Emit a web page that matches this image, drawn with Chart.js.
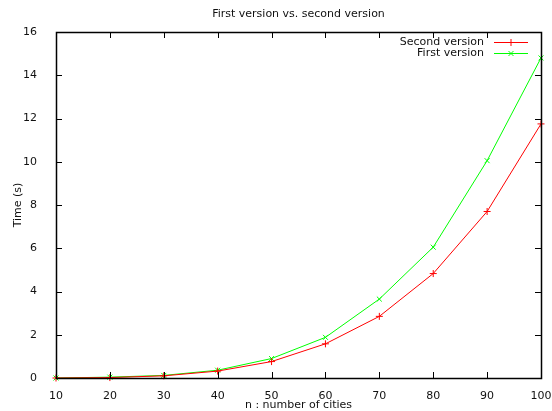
<!DOCTYPE html>
<html>
<head>
<meta charset="utf-8">
<script src="https://cdn.jsdelivr.net/npm/chart.js@4"></script>
<style>
  html, body { margin: 0; padding: 0; background: #fff; }
  #wrap { width: 552px; height: 411px; }
</style>
</head>
<body>
<div id="wrap"><canvas id="myCanvas" width="552" height="411"></canvas></div>
<script>
// data
var cities = [10, 20, 30, 40, 50, 60, 70, 80, 90, 100];
var secondVersion = [0, 0.02, 0.1, 0.32, 0.76, 1.58, 2.85, 4.83, 7.7, 11.75];
var firstVersion = [0, 0.04, 0.12, 0.36, 0.9, 1.88, 3.65, 6.05, 10.05, 14.8];
var xTicks = [10, 20, 30, 40, 50, 60, 70, 80, 90, 100];
var yTicks = [0, 2, 4, 6, 8, 10, 12, 14, 16];

var FONT = "'DejaVu Sans', sans-serif";
Chart.defaults.font.family = FONT;
Chart.defaults.font.size = 11;
Chart.defaults.color = "#111";

function pts(ys) {
  return cities.map(function (x, i) { return { x: x, y: ys[i] }; });
}

// gnuplot look: box, inward ticks, legend, titles
var gnuplotFrame = {
  id: "gnuplotFrame",
  afterDraw: function (chart) {
    var ctx = chart.ctx;
    var a = chart.chartArea;
    var xs = chart.scales.x, ys = chart.scales.y;
    ctx.save();
    ctx.strokeStyle = "#000";
    ctx.lineWidth = 1;
    ctx.beginPath();
    xTicks.forEach(function (v) {
      var px = Math.round(xs.getPixelForValue(v)) + 0.5;
      ctx.moveTo(px, a.bottom); ctx.lineTo(px, a.bottom - 6);
      ctx.moveTo(px, a.top); ctx.lineTo(px, a.top + 6);
    });
    yTicks.forEach(function (v) {
      var py = Math.round(ys.getPixelForValue(v)) + 0.5;
      ctx.moveTo(a.left, py); ctx.lineTo(a.left + 6, py);
      ctx.moveTo(a.right, py); ctx.lineTo(a.right - 6, py);
    });
    ctx.stroke();
    ctx.lineWidth = 1.5;
    ctx.strokeRect(Math.round(a.left) + 0.5, Math.round(a.top) + 0.5,
      Math.round(a.right - a.left), Math.round(a.bottom - a.top));

    ctx.fillStyle = "#111";
    ctx.font = "11px " + FONT;
    ctx.textBaseline = "middle";
    ctx.textAlign = "center";
    ctx.fillText("First version vs. second version", (a.left + a.right) / 2, 14);
    ctx.fillText("n : number of cities", (a.left + a.right) / 2, 405);
    ctx.save();
    ctx.translate(18, (a.top + a.bottom) / 2);
    ctx.rotate(-Math.PI / 2);
    ctx.fillText("Time (s)", 0, 0);
    ctx.restore();

    // legend
    chart.data.datasets.forEach(function (ds, i) {
      var y = 42 + i * 11;
      ctx.fillStyle = "#111";
      ctx.textAlign = "right";
      ctx.fillText(ds.label, 484, y);
      ctx.strokeStyle = ds.borderColor;
      ctx.lineWidth = 1;
      ctx.beginPath();
      ctx.moveTo(494, y + 0.5); ctx.lineTo(528, y + 0.5);
      ctx.stroke();
      Chart.helpers.drawPoint(ctx, { pointStyle: ds.pointStyle, radius: 3.5, borderWidth: 1 }, 511, y + 0.5);
    });
    ctx.restore();
  }
};

var chart = new Chart(document.getElementById("myCanvas").getContext("2d"), {
  type: "line",
  data: {
    datasets: [{
      label: "Second version",
      data: pts(secondVersion),
      borderColor: "#ff0000",
      backgroundColor: "#ff0000",
      borderWidth: 1,
      pointStyle: "cross",
      pointRadius: 3.5,
      pointBorderWidth: 1,
      tension: 0
    }, {
      label: "First version",
      data: pts(firstVersion),
      borderColor: "#00ff00",
      backgroundColor: "#00ff00",
      borderWidth: 1,
      pointStyle: "crossRot",
      pointRadius: 3.5,
      pointBorderWidth: 1,
      tension: 0
    }]
  },
  options: {
    responsive: false,
    animation: false,
    clip: false,
    layout: { padding: { left: 0, right: 11, top: 32, bottom: 0 } },
    plugins: {
      legend: { display: false },
      title: { display: false },
      tooltip: { enabled: false }
    },
    scales: {
      x: {
        type: "linear",
        min: 10, max: 100,
        afterBuildTicks: function (s) { s.ticks = xTicks.map(function (v) { return { value: v }; }); },
        afterFit: function (s) { s.height = 33; s.paddingLeft = 0; s.paddingRight = 0; },
        grid: { display: false },
        border: { display: false },
        ticks: { padding: 4, maxRotation: 0, color: "#111" }
      },
      y: {
        type: "linear",
        min: 0, max: 16,
        afterBuildTicks: function (s) { s.ticks = yTicks.map(function (v) { return { value: v }; }); },
        afterFit: function (s) { s.width = 56; s.paddingTop = 0; s.paddingBottom = 0; },
        grid: { display: false },
        border: { display: false },
        ticks: { padding: 11, color: "#111" }
      }
    }
  },
  plugins: [gnuplotFrame]
});
</script>
</body>
</html>
